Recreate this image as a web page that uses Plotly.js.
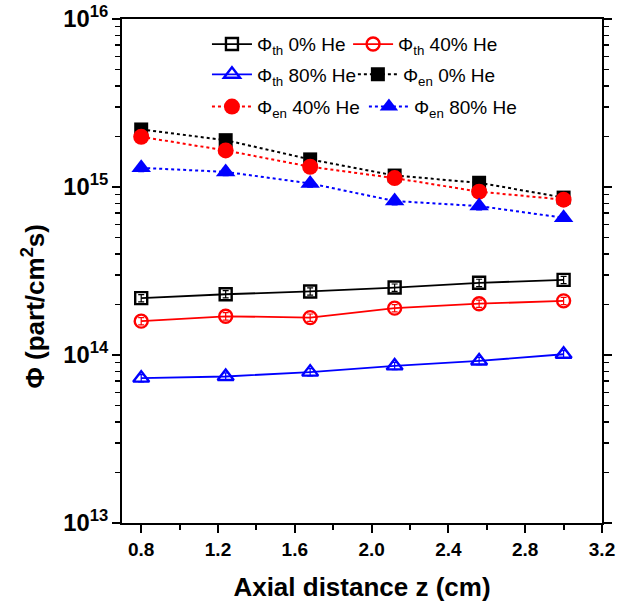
<!DOCTYPE html>
<html>
<head>
<meta charset="utf-8">
<script src="https://cdn.plot.ly/plotly-3.0.1.min.js"></script>
<style>html,body{margin:0;padding:0;background:#fff;}</style>
</head>
<body>
<div id="chart" style="width:633px;height:611px;"></div>
<script>
// Axial distance z (cm)
const z = [0.8, 1.24, 1.68, 2.12, 2.56, 3.0];
// Thermal flux
const phiTh0 = [2.18e14, 2.30e14, 2.39e14, 2.52e14, 2.69e14, 2.80e14];
const phiTh40 = [1.59e14, 1.70e14, 1.67e14, 1.90e14, 2.02e14, 2.10e14];
const phiTh80 = [7.28e13, 7.45e13, 7.91e13, 8.61e13, 9.22e13, 1.01e14];
// Energetic flux
const phiEn0 = [2.20e15, 1.90e15, 1.46e15, 1.17e15, 1.06e15, 8.65e14];
const phiEn40 = [1.99e15, 1.65e15, 1.32e15, 1.13e15, 9.38e14, 8.41e14];
const phiEn80 = [1.30e15, 1.23e15, 1.05e15, 8.25e14, 7.70e14, 6.56e14];
const seriesNames = [
  'Φ<sub>th</sub> 0% He', 'Φ<sub>th</sub> 40% He', 'Φ<sub>th</sub> 80% He',
  'Φ<sub>en</sub> 0% He', 'Φ<sub>en</sub> 40% He', 'Φ<sub>en</sub> 80% He'
];
const xTitle = 'Axial distance z (cm)';
const yTitle = 'Φ (part/cm<sup>2</sup>s)';

const FONT = 'Liberation Sans, Arial, sans-serif';
function err(color){ return {type:'percent', value:5, color:color, thickness:1.2, width:3}; }

const traces = [
  {x:z, y:phiTh0, name:seriesNames[0], mode:'lines+markers', legend:'legend',
   line:{color:'#000000', width:1.8}, marker:{symbol:'square-open', size:12, color:'#000000', line:{width:2.4, color:'#000000'}}, error_y:err('#000000')},
  {x:z, y:phiTh40, name:seriesNames[1], mode:'lines+markers', legend:'legend2',
   line:{color:'#ff0000', width:1.8}, marker:{symbol:'circle-open', size:13, color:'#ff0000', line:{width:2.4, color:'#ff0000'}}, error_y:err('#ff0000')},
  {x:z, y:phiTh80, name:seriesNames[2], mode:'lines+markers', legend:'legend3',
   line:{color:'#0000ff', width:1.8}, marker:{symbol:'triangle-up-open', size:14, color:'#0000ff', line:{width:2.4, color:'#0000ff'}}, error_y:err('#0000ff')},
  {x:z, y:phiEn0, name:seriesNames[3], mode:'lines+markers', legend:'legend4',
   line:{color:'#000000', width:2, dash:'dot'}, marker:{symbol:'square', size:14, color:'#000000'}, error_y:err('#000000')},
  {x:z, y:phiEn40, name:seriesNames[4], mode:'lines+markers', legend:'legend5',
   line:{color:'#ff0000', width:2, dash:'dot'}, marker:{symbol:'circle', size:16, color:'#ff0000'}, error_y:err('#ff0000')},
  {x:z, y:phiEn80, name:seriesNames[5], mode:'lines+markers', legend:'legend6',
   line:{color:'#0000ff', width:2, dash:'dot'}, marker:{symbol:'triangle-up', size:17, color:'#0000ff'}, error_y:err('#0000ff')}
];

const legBase = {orientation:'v', xref:'paper', yref:'paper', xanchor:'left', yanchor:'middle',
  bgcolor:'rgba(0,0,0,0)', borderwidth:0,
  font:{family:FONT, size:19, color:'#000'}, itemwidth:40, tracegroupgap:0};
function leg(x, y){ return Object.assign({}, legBase, {x:x, y:y}); }

const layout = {
  width:633, height:611,
  margin:{l:122, r:31, t:19, b:88},
  paper_bgcolor:'#fff', plot_bgcolor:'#fff',
  font:{family:FONT, color:'#000'},
  showlegend:true,
  legend:leg(0.177, 0.95),
  legend2:leg(0.471, 0.95),
  legend3:leg(0.177, 0.89),
  legend4:leg(0.481, 0.89),
  legend5:leg(0.177, 0.826),
  legend6:leg(0.504, 0.826),
  xaxis:{
    range:[0.7, 3.2], tick0:0.8, dtick:0.4, tickformat:'.1f',
    ticks:'outside', ticklen:8, tickwidth:2, tickcolor:'#000',
    showline:true, linewidth:2, linecolor:'#000', mirror:true,
    showgrid:false, zeroline:false,
    tickfont:{family:FONT, size:19, weight:'bold', color:'#000'},
    minor:{ticks:'outside', ticklen:5, tickwidth:2, tickcolor:'#000', tick0:0.8, dtick:0.2, showgrid:false},
    title:{text:xTitle, font:{family:FONT, size:26, weight:'bold', color:'#000'}, standoff:19}
  },
  yaxis:{
    type:'log', range:[13, 16], dtick:1, exponentformat:'power',
    ticks:'outside', ticklen:8, tickwidth:2, tickcolor:'#000',
    showline:true, linewidth:2, linecolor:'#000', mirror:'ticks',
    showgrid:false, zeroline:false,
    tickfont:{family:FONT, size:19, weight:'bold', color:'#000'},
    minor:{ticks:'outside', ticklen:5, tickwidth:1.5, tickcolor:'#000', dtick:'D1', showgrid:false}
  },
  annotations:[{
    text:yTitle, textangle:-90, xref:'paper', yref:'paper', x:-0.185, y:0.43,
    xanchor:'center', yanchor:'middle', showarrow:false,
    font:{family:FONT, size:26, weight:'bold', color:'#000'}
  }]
};

Plotly.newPlot('chart', traces, layout, {displayModeBar:false, staticPlot:true});
</script>
</body>
</html>
